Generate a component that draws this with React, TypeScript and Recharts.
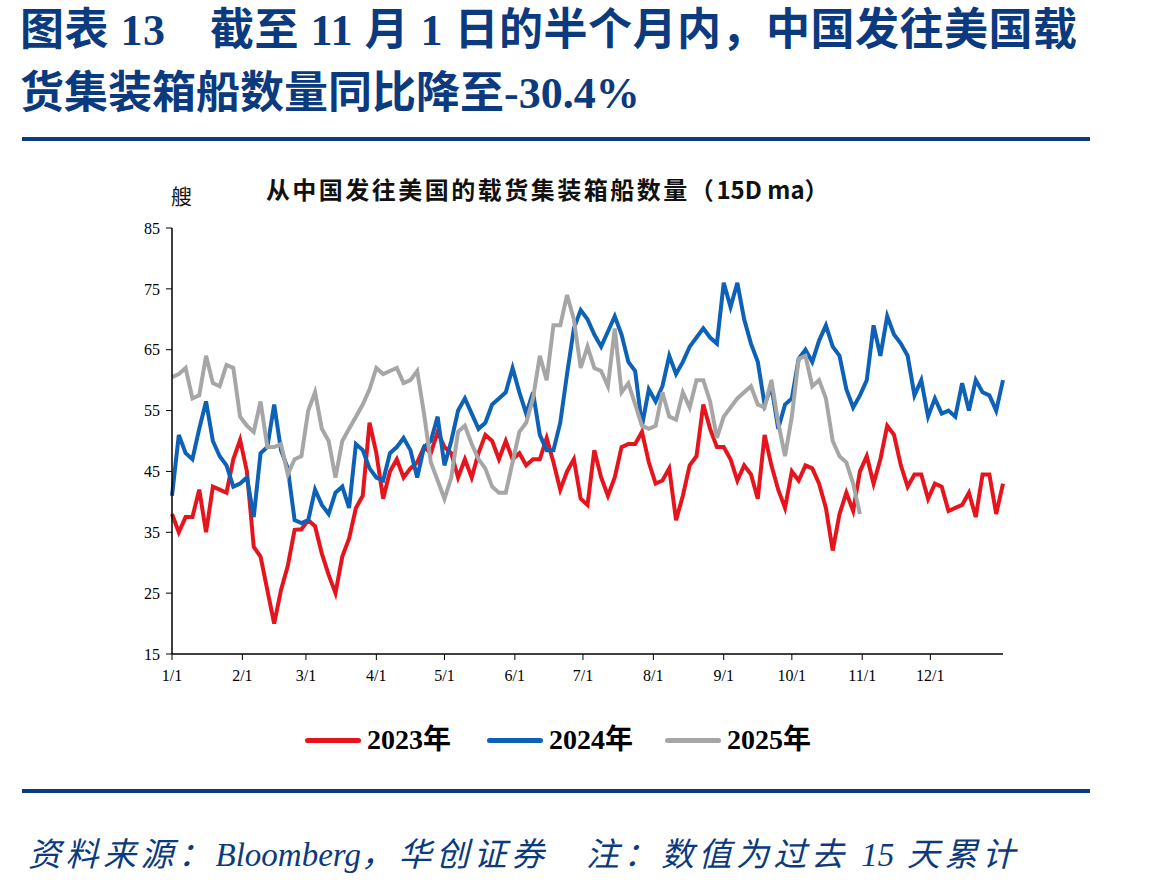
import React from "react";
import { LineChart, Line, XAxis, YAxis } from "recharts";

// one sample every 3 days, day 0 = Jan 1
const STEP = 3;

const monthTicks = [0, 31, 59, 90, 120, 151, 181, 212, 243, 273, 304, 334];
const monthLabels = ["1/1", "2/1", "3/1", "4/1", "5/1", "6/1", "7/1", "8/1", "9/1", "10/1", "11/1", "12/1"];
const yTicks = [15, 25, 35, 45, 55, 65, 75, 85];

const seriesNames = ["2023年", "2024年", "2025年"];
const seriesColors = ["#E6141C", "#0D62B8", "#A6A6A6"];

// container ships China -> US, 15-day moving average
const ships2023 = [
  38, 35, 37.5, 37.5, 42, 35, 42.5, 42, 41.5, 47,
  50.2, 45, 32.6, 31, 25.5, 20, 25.5, 29.5, 35.4, 35.5,
  37, 36, 31.5, 28, 25, 31, 34, 39, 41, 53,
  48, 40.5, 45, 47, 44, 45.5, 46.5, 49, 48, 51.5,
  49, 48, 44, 47, 44, 48, 51, 50, 47, 50,
  47, 48, 46, 47, 47, 50.5, 46.5, 42, 45, 47,
  40.5, 39.5, 48.5, 44, 41, 44, 49, 49.5, 49.5, 51.5,
  46.5, 43, 43.5, 45.5, 37, 41, 46, 47.5, 56, 52,
  49, 49, 47, 43.5, 46, 44.5, 40.5, 51, 46, 42,
  39, 45, 43.5, 46, 45.5, 43, 39, 32, 38, 41.5,
  38.5, 45, 47.5, 43, 47, 52.5, 51, 46, 42.5, 44.5,
  44.5, 40.5, 43, 42.5, 38.5, 39, 39.5, 41.5, 37.5, 44.5,
  44.5, 38, 43,
];

const ships2024 = [
  41, 51, 48, 47, 52, 56.5, 50, 47.5, 46, 42.5,
  43, 44, 37.5, 48, 49, 56, 48.5, 45.5, 37, 36.5,
  37, 42, 39.5, 38, 41.5, 42.5, 39, 49.5, 48.5, 45.5,
  44, 43.5, 48, 49, 50.5, 48.5, 44, 49, 50, 54,
  46, 50, 55, 57, 54.5, 52, 53, 56, 57, 58,
  62, 58, 54.5, 58, 51, 48.5, 48.5, 53, 61, 68.5,
  71.5, 70, 67.5, 65.5, 68, 70.5, 67.5, 63, 61.5, 52.5,
  58.5, 56.5, 59, 64, 61, 63, 65.5, 67, 68.5, 67,
  66, 76, 72, 76, 70, 66, 63, 56, 59, 52,
  56, 57, 63.5, 65, 63, 66.5, 69, 65.5, 64, 58.5,
  55.5, 57.5, 60, 69, 64, 70.5, 67.5, 66, 64, 57.5,
  60, 54, 57, 54.5, 55, 54, 59.5, 55, 60, 58,
  57.5, 55, 60,
];

const ships2025 = [
  60.5, 61, 62, 57, 57.5, 64, 59.5, 59, 62.5, 62,
  54, 52.5, 51.5, 56.5, 49, 49, 49.5, 44.5, 47, 47.5,
  55, 58, 52, 50, 44, 50, 52, 54, 56, 58.5,
  62, 61, 61.5, 62, 59.5, 60, 61.5, 54.5, 46.5, 43.5,
  40.5, 44, 51.5, 52.5, 49.5, 47, 45.5, 42.5, 41.5, 41.5,
  46.5, 51.5, 53, 57, 64, 60, 69, 69, 74, 70,
  62, 65.5, 62, 61.5, 59, 68.5, 58, 59.5, 56, 52.5,
  52, 52.5, 58, 54, 53.5, 58, 55.5, 60, 60, 56.5,
  50.5, 54, 55.5, 57, 58, 59, 56, 55.5, 60, 53,
  47.5, 54, 63.5, 64, 59, 60, 57, 50, 47.5, 46.5,
  43, 38,
];

const rows = ships2023.map((v, i) => ({
  day: i * STEP,
  y2023: v,
  y2024: ships2024[i] ?? null,
  y2025: ships2025[i] ?? null,
}));

const NAVY = "#0B3A7E";
const SERIF = '"Liberation Serif", "Times New Roman", serif';
const HEAD = '"Liberation Serif", "Noto Sans CJK SC", serif';
const SANS = '"Noto Sans CJK SC", sans-serif';

function LegendRow() {
  const lefts = [305, 487, 665];
  return (
    <>
      {seriesNames.map((name, i) => (
        <div
          key={name}
          style={{ position: "absolute", left: lefts[i], top: 723, display: "flex", alignItems: "center" }}
        >
          <div style={{ width: 56, height: 5, borderRadius: 3, background: seriesColors[i] }} />
          <span style={{ marginLeft: 6, fontFamily: HEAD, fontWeight: 700, fontSize: 28, color: "#000", lineHeight: "34px" }}>
            {name}
          </span>
        </div>
      ))}
    </>
  );
}

export default function App() {
  const tight = { letterSpacing: 0 };
  return (
    <div style={{ position: "absolute", left: 0, top: 0, width: 1149, height: 893, background: "#fff", overflow: "hidden" }}>
      <div style={{ position: "absolute", left: 20, top: 5, fontFamily: HEAD, fontWeight: 700, fontSize: 44, letterSpacing: 0.5, color: NAVY, whiteSpace: "pre", lineHeight: "52px" }}>
        {"图表 13　截至 11 月 1 日的半个月内，中国发往美国载"}
      </div>
      <div style={{ position: "absolute", left: 20, top: 68, fontFamily: HEAD, fontWeight: 700, fontSize: 44, color: NAVY, whiteSpace: "pre", lineHeight: "52px" }}>
        {"货集装箱船数量同比降至-30.4%"}
      </div>
      <div style={{ position: "absolute", left: 22, top: 137, width: 1068, height: 4, background: NAVY }} />

      <div style={{ position: "absolute", left: 0, width: 1149, top: 171, textAlign: "center", fontFamily: SANS, fontWeight: 700, fontSize: 24, letterSpacing: 2.5, color: "#111" }}>
        <span style={{ position: "relative", left: -26 }}>
          从中国发往美国的载货集装箱船数量（<span style={tight}>15D ma</span>）
        </span>
      </div>
      <div style={{ position: "absolute", left: 171, top: 180, fontFamily: SANS, fontSize: 21, color: "#111" }}>艘</div>

      <div style={{ position: "absolute", left: 0, top: 0 }}>
        <LineChart width={1149} height={893} data={rows} margin={{ top: 228, right: 146, bottom: 199, left: 112 }}>
          <XAxis
            dataKey="day"
            type="number"
            domain={[0, 366]}
            ticks={monthTicks}
            interval={0}
            tickFormatter={(v: number) => monthLabels[monthTicks.indexOf(v)]}
            height={40}
            tickSize={6}
            tickMargin={10}
            axisLine={{ stroke: "#000", strokeWidth: 1.5 }}
            tickLine={{ stroke: "#000" }}
            tick={{ fill: "#000", fontSize: 16, fontFamily: SERIF }}
          />
          <YAxis
            type="number"
            domain={[15, 85]}
            ticks={yTicks}
            interval={0}
            width={60}
            tickSize={6}
            tickMargin={6}
            axisLine={{ stroke: "#000", strokeWidth: 1.5 }}
            tickLine={{ stroke: "#000" }}
            tick={{ fill: "#000", fontSize: 16, fontFamily: SERIF }}
          />
          <Line dataKey="y2023" name={seriesNames[0]} stroke={seriesColors[0]} strokeWidth={4} dot={false} isAnimationActive={false} />
          <Line dataKey="y2024" name={seriesNames[1]} stroke={seriesColors[1]} strokeWidth={4} dot={false} isAnimationActive={false} />
          <Line dataKey="y2025" name={seriesNames[2]} stroke={seriesColors[2]} strokeWidth={4} dot={false} isAnimationActive={false} />
        </LineChart>
      </div>

      <LegendRow />

      <div style={{ position: "absolute", left: 22, top: 789, width: 1068, height: 4, background: NAVY }} />
      <div style={{ position: "absolute", left: 28, top: 835, fontFamily: HEAD, fontStyle: "italic", fontSize: 33, letterSpacing: 4.5, color: NAVY, whiteSpace: "pre", lineHeight: "40px" }}>
        资料来源：<span style={tight}>Bloomberg</span>，华创证券　注：数值为过去 <span style={tight}>15</span> 天累计
      </div>
    </div>
  );
}
